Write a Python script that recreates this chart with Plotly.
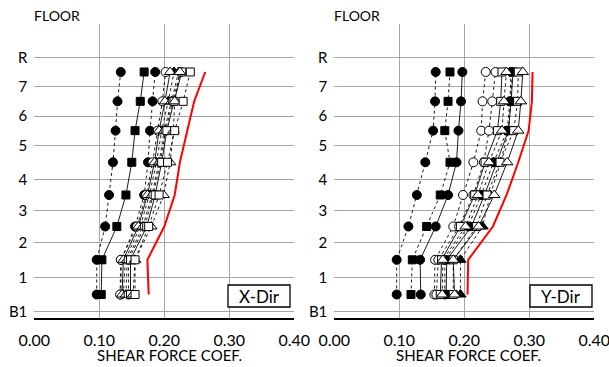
import plotly.graph_objects as go

# ---------------- data ----------------
floor_labels = ["B1", "1", "2", "3", "4", "5", "6", "7", "R"]
floor_levels = [0.0, 4.30, 8.675, 12.625, 16.55, 20.80, 24.46, 28.125, 31.80]

# shear force coefficients per story, bottom (B1 story) to top (7F story)
x_series = {
    "X6": ("triangle-up", [0.137, 0.140, 0.163, 0.177, 0.188, 0.196, 0.206, 0.215]),
    "X1": ("circle", [0.096, 0.096, 0.109, 0.115, 0.121, 0.125, 0.128, 0.133]),
    "X2": ("square", [0.103, 0.104, 0.127, 0.141, 0.150, 0.155, 0.163, 0.169]),
    "X3": ("circle", [0.133, 0.134, 0.155, 0.169, 0.175, 0.178, 0.182, 0.186]),
    "X4": ("circle-open", [0.132, 0.133, 0.158, 0.172, 0.182, 0.190, 0.197, 0.202]),
    "X5": ("triangle-up-open", [0.135, 0.137, 0.160, 0.174, 0.185, 0.192, 0.201, 0.209]),
    "X7": ("triangle-up-open", [0.141, 0.143, 0.167, 0.181, 0.192, 0.200, 0.211, 0.222]),
    "X8": ("circle-open", [0.145, 0.145, 0.170, 0.183, 0.194, 0.202, 0.213, 0.225]),
    "X9": ("square-open", [0.148, 0.148, 0.173, 0.186, 0.196, 0.204, 0.215, 0.227]),
    "X10": ("triangle-up-open", [0.152, 0.155, 0.180, 0.199, 0.209, 0.214, 0.216, 0.224]),
    "X11": ("square-open", [0.155, 0.155, 0.176, 0.192, 0.205, 0.216, 0.229, 0.240]),
}
x_design = [0.176, 0.174, 0.200, 0.216, 0.224, 0.236, 0.246, 0.263]

y_series = {
    "Y12": ("triangle-up", [0.194, 0.194, 0.228, 0.240, 0.256, 0.268, 0.271, 0.274]),
    "Y8": ("circle", [0.170, 0.170, 0.206, 0.226, 0.245, 0.266, 0.270, 0.272]),
    "Y9": ("square", [0.172, 0.173, 0.211, 0.231, 0.250, 0.268, 0.272, 0.275]),
    "Y1": ("circle", [0.096, 0.096, 0.114, 0.127, 0.140, 0.152, 0.155, 0.156]),
    "Y2": ("square", [0.118, 0.120, 0.142, 0.163, 0.178, 0.170, 0.175, 0.178]),
    "Y3": ("circle", [0.133, 0.132, 0.156, 0.175, 0.188, 0.191, 0.195, 0.197]),
    "Y4": ("circle-open", [0.154, 0.155, 0.183, 0.198, 0.214, 0.226, 0.228, 0.233]),
    "Y5": ("circle-open", [0.157, 0.160, 0.192, 0.214, 0.230, 0.238, 0.243, 0.248]),
    "Y6": ("square-open", [0.163, 0.165, 0.194, 0.216, 0.232, 0.251, 0.256, 0.258]),
    "Y7": ("triangle-up-open", [0.166, 0.167, 0.202, 0.221, 0.238, 0.258, 0.261, 0.265]),
    "Y10": ("square-open", [0.183, 0.183, 0.219, 0.235, 0.255, 0.276, 0.282, 0.283]),
    "Y11": ("triangle-up-open", [0.185, 0.183, 0.222, 0.246, 0.266, 0.283, 0.287, 0.290]),
}
y_design = [0.205, 0.206, 0.244, 0.265, 0.283, 0.299, 0.304, 0.305]

x_ticks = [0.0, 0.1, 0.2, 0.3, 0.4]
x_tick_text = ["0.00", "0.10", "0.20", "0.30", "0.40"]

story_mid = [(floor_levels[i] + floor_levels[i + 1]) / 2 for i in range(len(floor_levels) - 1)]

FONT = "Lato"
fig = go.Figure()


def add_panel(series, design, xa, ya):
    for i, (name, (sym, vals)) in enumerate(series.items()):
        is_open = sym.endswith("-open")
        base = sym.replace("-open", "")
        dash = "dot" if i % 3 != 2 else "solid"
        size = {"circle": 9, "square": 8, "triangle-up": 10}[base]
        fig.add_trace(go.Scatter(
            x=vals, y=story_mid, mode="lines+markers", name=name,
            xaxis=xa, yaxis=ya, showlegend=False, hoverinfo="skip",
            line=dict(color="black", width=0.9, dash=dash),
            marker=dict(symbol=base, size=size,
                        color="white" if is_open else "black",
                        line=dict(color="black", width=1)),
        ))
    fig.add_trace(go.Scatter(
        x=design, y=story_mid, mode="lines", xaxis=xa, yaxis=ya,
        showlegend=False, hoverinfo="skip", line=dict(color="#ff0000", width=2),
    ))


add_panel(x_series, x_design, "x", "y")
add_panel(y_series, y_design, "x2", "y2")

W, H = 609, 367


def px(x):
    return x / W


def py(y):
    return 1 - y / H


y_dom = [py(317.7), py(24)]
ax_common = dict(
    range=[0, 0.4], tickvals=x_ticks, ticktext=x_tick_text,
    showgrid=True, gridcolor="#a6a6a6", gridwidth=1, zeroline=False,
    showline=True, linecolor="black", linewidth=1.5,
    ticks="", ticklabelstandoff=7, automargin=False, ticklabeloverflow="allow",
    tickfont=dict(family=FONT, size=16, color="black"),
)
ay_common = dict(
    range=[-0.75, 35.96], tickvals=floor_levels, ticktext=floor_labels,
    showgrid=True, gridcolor="#a6a6a6", gridwidth=1, zeroline=False,
    showline=False, ticks="", ticklabelstandoff=6, automargin=False,
    tickfont=dict(family=FONT, size=15, color="black"),
)

fig.update_layout(
    width=W, height=H, margin=dict(l=0, r=0, t=0, b=0, autoexpand=False),
    paper_bgcolor="white", plot_bgcolor="white",
    xaxis=dict(domain=[px(34.3), px(294.3)], anchor="y", **ax_common),
    yaxis=dict(domain=y_dom, anchor="x", **ay_common),
    xaxis2=dict(domain=[px(334.3), px(594.3)], anchor="y2", **ax_common),
    yaxis2=dict(domain=y_dom, anchor="x2", **ay_common),
)

annos = []
for xl, xc in [(32.3, 169), (332, 469)]:
    annos.append(dict(x=px(xl), y=py(15.7), xref="paper", yref="paper",
                      text="FLOOR", showarrow=False, xanchor="left", yanchor="middle",
                      font=dict(family=FONT, size=14, color="black")))
    annos.append(dict(x=px(xc), y=py(355), xref="paper", yref="paper",
                      text="SHEAR FORCE COEF.", showarrow=False, xanchor="center",
                      yanchor="middle", font=dict(family=FONT, size=15, color="black")))
fig.update_layout(annotations=annos)

# direction boxes
for x0, x1, tag in [(228, 290, "X-Dir"), (530, 592, "Y-Dir")]:
    fig.add_shape(type="rect", xref="paper", yref="paper",
                  x0=px(x0), x1=px(x1), y0=py(307), y1=py(285),
                  line=dict(color="black", width=1.3), fillcolor="white", layer="above")
    fig.add_annotation(x=px((x0 + x1) / 2), y=py(296), xref="paper", yref="paper",
                       text=tag, showarrow=False, xanchor="center", yanchor="middle",
                       font=dict(family=FONT, size=17, color="black"))

fig.write_html(
    "out.html",
    config={"displayModeBar": False},
    post_script="document.body.style.margin='0';document.body.style.overflow='hidden';",
)
